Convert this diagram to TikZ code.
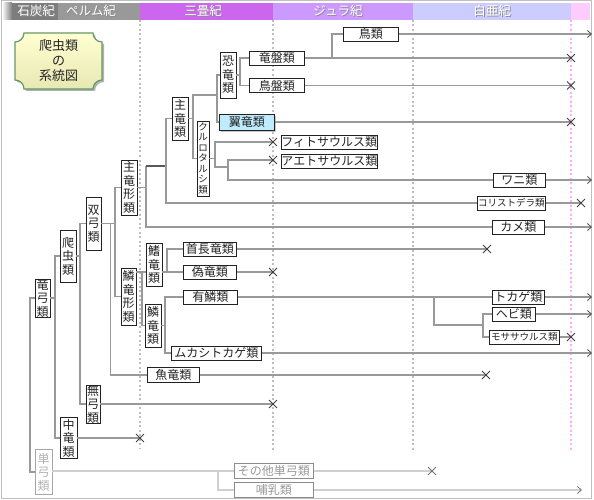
\documentclass[tikz,border=0pt]{standalone}
\usepackage{fontspec}
\setmainfont{Noto Sans CJK JP}
\definecolor{lineg}{RGB}{153,153,153}
\definecolor{linel}{RGB}{208,208,208}
\definecolor{boxd}{RGB}{34,34,34}
\definecolor{carb}{RGB}{125,125,125}
\definecolor{perm}{RGB}{153,153,153}
\definecolor{tria}{RGB}{204,102,238}
\definecolor{jura}{RGB}{204,153,255}
\definecolor{cret}{RGB}{204,204,255}
\definecolor{paleo}{RGB}{255,204,255}
\definecolor{dotg}{RGB}{190,190,190}
\definecolor{dotp}{RGB}{255,170,255}
\definecolor{ptero}{RGB}{190,236,252}
\definecolor{ttlfill}{RGB}{255,255,210}
\definecolor{ttlbot}{RGB}{232,232,180}
\definecolor{ttldraw}{RGB}{102,153,102}
\usetikzlibrary{arrows.meta,positioning,shapes.misc,shadows}
\newcommand\shadowtxt[1]{\makebox[0pt][l]{\hspace{1pt}\raisebox{-1pt}{\textcolor{black!45}{#1}}}#1}
\tikzset{
  box/.style={draw=boxd,line width=0.8pt,fill=white,text=boxd,inner sep=0pt,
              minimum height=14pt,anchor=west,font=\fontsize{12}{13}\selectfont},
  sbox/.style={box,font=\fontsize{9.5}{11}\selectfont},
  gbox/.style={box,draw=black!45,text=black!40},
  hl/.style={fill=ptero,drop shadow={shadow xshift=2pt,shadow yshift=-2pt,opacity=.45}},
  vbox/.style={draw=boxd,line width=0.8pt,fill=white,text=boxd,inner sep=0pt,
               align=center,minimum width=15pt,font=\fontsize{12}{13.5}\selectfont},
  svbox/.style={vbox,font=\fontsize{9.5}{10.5}\selectfont},
  gvbox/.style={vbox,draw=black!35,text=black!30},
  era/.style={text=white,inner sep=0pt,font=\fontsize{12.5}{13}\selectfont},
  ttl/.style={align=center,text=boxd,inner sep=0pt,font=\fontsize{13}{15}\selectfont},
  ln/.style={draw=lineg,line width=1.8pt},
  lnl/.style={draw=linel,line width=1.8pt},
  arr/.style={ln,-{Straight Barb[length=4pt,width=7pt,line width=0.8pt,color=black!70]}},
  arrl/.style={lnl,-{Straight Barb[length=4pt,width=7pt,line width=0.8pt,color=black!55]}},
  xm/.style={cross out,draw=black!75,line width=0.9pt,minimum size=7pt,inner sep=0pt},
  dotln/.style={draw=dotg,line width=1.6pt,dash pattern=on 2pt off 2.5pt},
}

\begin{document}
\begin{tikzpicture}[x=1pt,y=-1pt]
  \useasboundingbox (0,0) rectangle (594,500);
  % period band
  \fill[left color=white,right color=carb] (2,3) rectangle (12,20);
  \fill[carb] (12,3) rectangle (58,20);
  \fill[perm] (58,3) rectangle (140,20);
  \fill[tria] (140,3) rectangle (273,20);
  \fill[jura] (273,3) rectangle (413,20);
  \fill[cret] (413,3) rectangle (571,20);
  \fill[paleo] (571,3) rectangle (590,20);
  \node[era] (pcarb) at (36,11.5) {\shadowtxt{石炭紀}};
  \node[era] (pperm) at (91,11.5) {\shadowtxt{ペルム紀}};
  \node[era] (ptria) at (203,11.5) {\shadowtxt{三畳紀}};
  \node[era] (pjura) at (338,11.5) {\shadowtxt{ジュラ紀}};
  \node[era] (pcret) at (492,11.5) {\shadowtxt{白亜紀}};
  \draw[black!25,line width=1pt] (1,1) rectangle (591.5,498.5);
  \foreach \x/\y in {140/448,273/452,413/452}
    \draw[dotln] (\x,20) -- (\x,\y);
  \draw[dotln,draw=dotp] (571,20) -- (571,450);

  % title plate
  \path[draw=ttldraw,line width=1.2pt,top color=ttlfill,bottom color=ttlbot,
        preaction={fill=black!30,transform canvas={shift={(2pt,-2pt)}}}]
    (24,33) -- (93,33) arc[start angle=180,end angle=90,radius=9]
    -- (102,80) arc[start angle=270,end angle=180,radius=9]
    -- (24,89) arc[start angle=0,end angle=-90,radius=9]
    -- (15,42) arc[start angle=90,end angle=0,radius=9] -- cycle;
  \node[ttl] (title) at (58.5,61) {爬虫類\\の\\系統図};

  % taxa
  \node[box,minimum width=55pt] (tori) at (343,34) {鳥類};
  \node[box,minimum width=55pt] (ryuban) at (249,58) {竜盤類};
  \node[box,minimum width=55pt] (choban) at (249,85.5) {鳥盤類};
  \node[box,hl,minimum width=55pt,minimum height=16pt] (yokuryu) at (219,122) {翼竜類};
  \node[box,minimum width=95pt] (fito) at (281,142) {フィトサウルス類};
  \node[box,minimum width=95pt] (aeto) at (281,161) {アエトサウルス類};
  \node[box,minimum width=52pt] (wani) at (493,180) {ワニ類};
  \node[sbox,minimum width=68pt] (kori) at (477,203) {コリストデラ類};
  \node[box,minimum width=52pt] (kame) at (492,227) {カメ類};
  \node[box,minimum width=53pt] (shucho) at (183,249) {首長竜類};
  \node[box,minimum width=53pt] (giryu) at (183,272) {偽竜類};
  \node[box,minimum width=54pt] (yurin) at (183,297) {有鱗類};
  \node[box,minimum width=52pt] (tokage) at (492,297) {トカゲ類};
  \node[box,minimum width=43pt] (hebi) at (492,314) {ヘビ類};
  \node[sbox,minimum width=70pt] (mosa) at (489,337) {モササウルス類};
  \node[box,minimum width=90pt] (mukashi) at (171,353) {ムカシトカゲ類};
  \node[box,minimum width=52pt,minimum height=15pt] (gyoryu) at (147,375) {魚竜類};
  \node[gbox,minimum width=79pt,minimum height=15pt] (sonota) at (234,471) {その他単弓類};
  \node[gbox,minimum width=79pt,minimum height=15pt] (honyu) at (234,490) {哺乳類};

  \node[vbox,minimum height=37pt] (ryukyu) at (42.5,298) {竜\\弓\\類};
  \node[vbox,minimum height=52pt,minimum width=16pt] (hachu) at (68,256) {爬\\虫\\類};
  \node[vbox,minimum height=41pt,minimum width=17pt] (churyu) at (68.5,438) {中\\竜\\類};
  \node[vbox,minimum height=53pt] (sokyu) at (93.5,223.5) {双\\弓\\類};
  \node[vbox,minimum height=38pt,minimum width=14pt] (mukyu) at (93,404) {無\\弓\\類};
  \node[vbox,minimum height=55pt,minimum width=16pt] (shuform) at (129,187.5) {主\\竜\\形\\類};
  \node[vbox,minimum height=57pt] (rinform) at (128.5,296.5) {鱗\\竜\\形\\類};
  \node[vbox,minimum height=43pt,minimum width=16pt] (shuryu) at (180,118.5) {主\\竜\\類};
  \node[vbox,minimum height=46pt,minimum width=16pt] (kyoryu) at (228,75) {恐\\竜\\類};
  \node[svbox,minimum height=75pt,minimum width=12pt] (kuru) at (203,158.5) {ク\\ル\\ロ\\タ\\ル\\シ\\類};
  \node[vbox,minimum height=43pt,minimum width=16pt] (kiryu) at (154,264.5) {鰭\\竜\\類};
  \node[vbox,minimum height=43pt,minimum width=16pt] (rinryu) at (153,325.5) {鱗\\竜\\類};
  \node[gvbox,minimum height=45pt,minimum width=17pt] (tanku) at (43.5,472) {単\\弓\\類};

  % junctions, extinctions, survivors
  \coordinate (jshuform) at (146,166);
  \coordinate (jshuryu) at (193,95);
  \coordinate (jkuru) at (215,167);
  \coordinate (jyurin) at (434,297);
  \coordinate (jhebi) at (483,325);
  \coordinate (xryuban) at (571,58);
  \coordinate (xchoban) at (571,85.5);
  \coordinate (xyoku) at (571,122);
  \coordinate (xfito) at (273,142);
  \coordinate (xaeto) at (273,160);
  \coordinate (xkori) at (581,203);
  \coordinate (xshucho) at (487,249);
  \coordinate (xgiryu) at (273,272);
  \coordinate (xmosa) at (571,337);
  \coordinate (xgyoryu) at (486,375);
  \coordinate (xmukyu) at (273,404);
  \coordinate (xchuryu) at (140,438);
  \coordinate (xsonota) at (432,471);
  \coordinate (atori) at (592,34);
  \coordinate (awani) at (592,180);
  \coordinate (akame) at (592,227);
  \coordinate (atokage) at (592,297);
  \coordinate (ahebi) at (592,314);
  \coordinate (amukashi) at (592,353);
  \coordinate (ahonyu) at (582,490);

  % amniote trunk
  \draw[ln] (ryukyu.west) -- ++(-5,0) |- (tanku.west);
  \draw[ln] (ryukyu.east) -- ++(5,0);
  \draw[ln] (hachu.west) -- ++(-5,0) |- (churyu.west);
  \draw[ln] (churyu.east) -- (xchuryu);
  \draw[ln] (hachu.east) -- ++(4,0);
  \draw[ln] (sokyu.west) -- ++(-6,0) |- (mukyu.west);
  \draw[ln] (mukyu.east) -- (xmukyu);
  \draw[ln] (sokyu.east) -- ++(14,0);
  \draw[ln] (sokyu.east) ++(9,0) |- (gyoryu.west);
  \draw[ln] (gyoryu.east) -- (xgyoryu);
  \draw[ln] (shuform.west) -- ++(-6,0) |- (rinform.west);
  % archosauromorphs
  \draw[ln] (shuform.east) -- ++(9,0);
  \draw[ln] (kame.west) -| (jshuform);
  \draw[ln,draw=black!65,line width=2.2pt] (jshuform) -- ++(20,0);
  \draw[ln] (shuryu.west) -- ++(-6,0) |- (kori.west);
  \draw[arr] (kame.east) -- (akame);
  \draw[ln] (kori.east) -- (xkori);
  \draw[ln] (shuryu.east) -- ++(5,0);
  \draw[ln] (kuru.west) -| (jshuryu) -- ++(24,0);
  \draw[ln] (kyoryu.west) -- ++(-3,0) |- (yokuryu.west);
  \draw[ln] (yokuryu.east) -- (xyoku);
  \draw[ln] (kyoryu.east) -- ++(4,0);
  \draw[ln] (ryuban.west) -- ++(-9,0) |- (choban.west);
  \draw[ln] (ryuban.east) -- (xryuban);
  \draw[ln] (tori.west) -- ++(-11,0) |- (ryuban.east);
  \draw[arr] (tori.east) -- (atori);
  \draw[ln] (choban.east) -- (xchoban);
  \draw[ln] (kuru.east) -- ++(6,0);
  \draw[ln] (xfito) -| (jkuru) -- ++(13,0);
  \draw[ln] (xaeto) -- ++(-45,0) |- (wani.west);
  \draw[arr] (wani.east) -- (awani);
  % lepidosauromorphs
  \draw[ln] (rinform.east |- giryu) -- (kiryu.west |- giryu);
  \draw[ln] (rinryu.west) -- ++(-3,0) |- (kiryu.west |- giryu);
  \draw[ln] (kiryu.east |- giryu) -- (giryu.west);
  \draw[ln] (shucho.west) -- ++(-16,0) |- (giryu.west);
  \draw[ln] (shucho.east) -- (xshucho);
  \draw[ln] (giryu.east) -- (xgiryu);
  \draw[ln] (rinryu.east) -- ++(4,0);
  \draw[ln] (yurin.west) -- ++(-18,0) |- (mukashi.west);
  \draw[ln] (yurin.east) -- (tokage.west);
  \draw[arr] (tokage.east) -- (atokage);
  \draw[ln] (jyurin) |- (jhebi);
  \draw[ln] (hebi.west) -- ++(-9,0) |- (mosa.west);
  \draw[arr] (hebi.east) -- (ahebi);
  \draw[ln] (mosa.east) -- (xmosa);
  \draw[arr] (mukashi.east) -- (amukashi);
  % synapsids
  \draw[lnl] (tanku.east |- sonota.west) -- (sonota.west);
  \draw[lnl] (honyu.west) -- ++(-16,0) |- (sonota.west);
  \draw[lnl] (sonota.east) -- (xsonota);
  \draw[arrl] (honyu.east) -- (ahonyu);

  \foreach \c in {xryuban,xchoban,xyoku,xfito,xaeto,xkori,xshucho,xgiryu,
                  xmosa,xgyoryu,xmukyu,xchuryu}
    \node[xm] (\c-mark) at (\c) {};
  \node[xm,draw=black!55] (xsonota-mark) at (xsonota) {};
\end{tikzpicture}
\end{document}
